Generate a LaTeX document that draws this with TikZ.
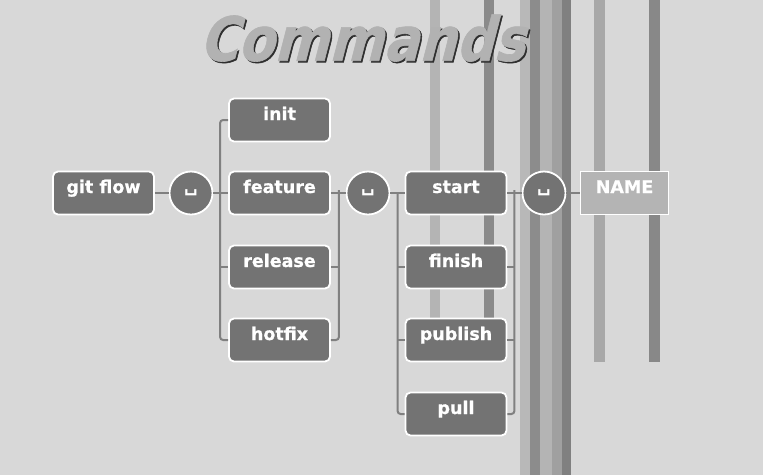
\documentclass[tikz,border=0pt]{standalone}
\usepackage{fontspec}
\setmainfont{DejaVu Sans}
\newfontfamily\headingfont{DejaVu Sans Bold}[FakeSlant=0.3, FakeBold=1]
\newfontfamily\boxfont{DejaVu Sans Bold}[FakeBold=0.6]
\usetikzlibrary{calc}

\definecolor{bggray}{HTML}{D8D8D8}
\definecolor{boxgray}{HTML}{737373}
\definecolor{argfill}{HTML}{B4B4B4}
\definecolor{wiregray}{HTML}{808080}
\definecolor{titlefill}{HTML}{B2B2B2}
\definecolor{titleshade}{HTML}{2E2E2E}

\begin{document}
\begin{tikzpicture}[x=1pt, y=-1pt,
  cmd/.style={draw=white, line width=1.8pt, fill=boxgray, rounded corners=5pt,
    minimum width=101pt, minimum height=43pt, inner sep=0pt,
    text height=8pt, text depth=8pt, text=white,
    font=\boxfont\fontsize{17.5}{19}\selectfont},
  arg/.style={cmd, fill=argfill, rounded corners=0pt, minimum width=88pt},
  space/.style={circle, draw=white, line width=1.8pt, fill=boxgray,
    minimum size=43pt, inner sep=0pt, text=white,
    font=\bfseries\fontsize{19}{20}\selectfont},
  heading/.style={font=\headingfont\fontsize{61}{62}\selectfont},
  wire/.style={draw=wiregray, line width=2pt}]
  % ============================================================
  % 1. Background and vertical stripes
  % ============================================================
  \useasboundingbox[fill=bggray] (0,0) rectangle (763,475);
  \foreach \xa/\xb/\yb/\shade in {430/440/362/B4B4B4, 484/494/362/8A8A8A,
      520/530/475/B8B8B8, 530/540/475/8C8C8C, 540/552/475/B4B4B4,
      552/562/475/A0A0A0, 562/571/475/808080,
      594/605/362/A8A8A8, 649/660/362/888888} {
    \definecolor{stripe}{HTML}{\shade}
    \fill[stripe] (\xa,0) rectangle (\xb,\yb);
  }

  % ============================================================
  % 2. Title (drop shadow first, then the face)
  % ============================================================
  \node[heading, text=titleshade] (titleshadow) at (363.5,39.5)
    {\scalebox{0.86}[1]{Commands}};
  \node[heading, text=titlefill] (title) at (362,38)
    {\scalebox{0.86}[1]{Commands}};

  % ============================================================
  % 3. Command boxes
  % ============================================================
  \node[cmd] (gitflow) at (103.5,193) {git flow};
  \node[space] (sp1) at (191,193) {␣};

  \node[cmd] (init)    at (279.5,120) {init};
  \node[cmd] (feature) at (279.5,193) {feature};
  \node[cmd] (release) at (279.5,267) {release};
  \node[cmd] (hotfix)  at (279.5,340) {hotfix};
  \node[space] (sp2) at (368,193) {␣};

  \node[cmd] (start)   at (456,193) {start};
  \node[cmd] (finish)  at (456,267) {finish};
  \node[cmd] (publish) at (456,340) {publish};
  \node[cmd] (pull)    at (456,414) {pull};
  \node[space] (sp3) at (544,193) {␣};

  \node[arg] (name) at (624.5,193) {NAME};

  % ============================================================
  % 4. Connectors (bus lines left and right of each column)
  % ============================================================
  \coordinate (busA) at ($(feature.west)+(-8,0)$);
  \coordinate (busB) at ($(feature.east)+(8,0)$);
  \coordinate (busC) at ($(start.west)+(-7,0)$);
  \coordinate (busD) at ($(start.east)+(7,0)$);

  \draw[wire] (gitflow) -- (sp1);
  \draw[wire] (sp1) -- (feature);
  \draw[wire, rounded corners=3pt] (init.west) -| (busA) |- (hotfix.west);
  \draw[wire] (release.west) -- (release.west -| busA);

  \draw[wire] (feature) -- (sp2);
  \draw[wire, rounded corners=3pt] (hotfix.east) -| (busB) -- ++(0,-2);
  \draw[wire] (release.east) -- (release.east -| busB);

  \draw[wire] (sp2) -- (start);
  \draw[wire, rounded corners=3pt] (busC) |- (pull.west);
  \draw[wire] (finish.west) -- (finish.west -| busC);
  \draw[wire] (publish.west) -- (publish.west -| busC);

  \draw[wire] (start) -- (sp3);
  \draw[wire, rounded corners=3pt] (pull.east) -| (busD) -- ++(0,-2);
  \draw[wire] (finish.east) -- (finish.east -| busD);
  \draw[wire] (publish.east) -- (publish.east -| busD);

  \draw[wire] (sp3) -- (name);
\end{tikzpicture}
\end{document}
